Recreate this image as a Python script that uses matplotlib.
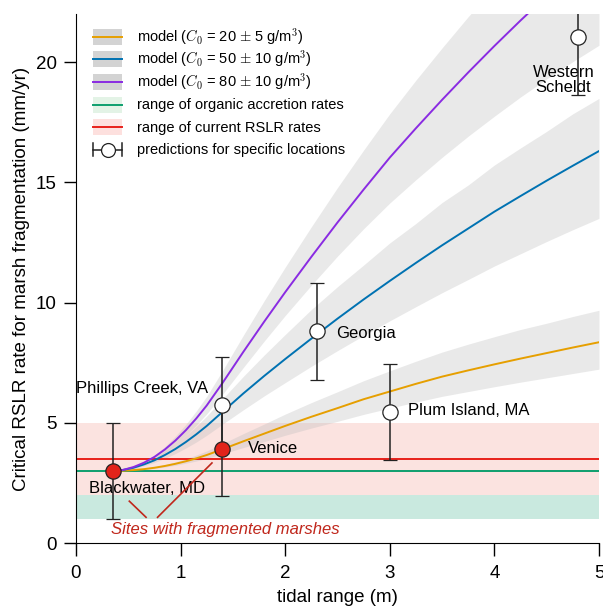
import numpy as np
import matplotlib
matplotlib.use('Agg')
import matplotlib.pyplot as plt
from matplotlib.patches import Rectangle
from matplotlib.lines import Line2D
from matplotlib.legend_handler import HandlerBase

plt.rcParams['font.family'] = ['Liberation Sans', 'DejaVu Sans']
plt.rcParams['mathtext.fontset'] = 'cm'

# tidal range grid (m) and model curves
tidal = [0.35, 0.45, 0.55, 0.65, 0.75, 0.85, 0.95, 1.05, 1.15, 1.25, 1.4, 1.6, 1.8,
         2.0, 2.25, 2.5, 2.75, 3.0, 3.25, 3.5, 3.75, 4.0, 4.25, 4.5, 4.75, 5.0]

c20 = [3.0, 3.008, 3.033, 3.073, 3.13, 3.204, 3.294, 3.40, 3.52, 3.66, 3.9, 4.23, 4.55,
       4.87, 5.25, 5.61, 5.98, 6.3, 6.62, 6.92, 7.18, 7.43, 7.67, 7.9, 8.13, 8.35]
c20_hi = [3.0, 3.01, 3.04, 3.09, 3.16, 3.26, 3.37, 3.5, 3.66, 3.83, 4.13, 4.55, 4.95,
          5.36, 5.84, 6.29, 6.75, 7.16, 7.56, 7.94, 8.27, 8.58, 8.88, 9.14, 9.42, 9.68]
c20_lo = [3.0, 3.01, 3.03, 3.06, 3.1, 3.16, 3.23, 3.32, 3.41, 3.52, 3.71, 3.97, 4.22,
          4.48, 4.78, 5.06, 5.35, 5.61, 5.86, 6.1, 6.3, 6.5, 6.69, 6.87, 7.05, 7.23]

c50 = [3.0, 3.04, 3.13, 3.27, 3.44, 3.66, 3.91, 4.2, 4.52, 4.87, 5.45, 6.22, 6.95,
       7.65, 8.5, 9.33, 10.13, 10.9, 11.65, 12.38, 13.08, 13.78, 14.43, 15.07, 15.69, 16.3]
c50_hi = [3.0, 3.05, 3.16, 3.33, 3.54, 3.81, 4.11, 4.46, 4.85, 5.28, 5.99, 6.93, 7.82,
          8.67, 9.71, 10.66, 11.56, 12.48, 13.29, 14.16, 14.89, 15.72, 16.43, 17.12, 17.85, 18.49]
c50_lo = [3.0, 3.03, 3.10, 3.21, 3.35, 3.52, 3.72, 3.95, 4.2, 4.48, 4.94, 5.54, 6.12,
          6.67, 7.35, 8.0, 8.63, 9.24, 9.83, 10.41, 10.96, 11.52, 12.03, 12.54, 13.03, 13.5]

c80 = [3.0, 3.04, 3.16, 3.34, 3.58, 3.89, 4.26, 4.69, 5.18, 5.72, 6.65, 7.95, 9.21,
       10.43, 11.9, 13.33, 14.7, 16.03, 17.25, 18.43, 19.57, 20.67, 21.73, 22.75, 23.75, 24.7]
c80_hi = [3.0, 3.05, 3.18, 3.39, 3.66, 4.01, 4.44, 4.93, 5.49, 6.1, 7.16, 8.64, 10.08,
          11.47, 13.15, 14.78, 16.34, 17.85, 19.25, 20.59, 21.89, 23.1, 24.3, 25.4, 26.5, 27.6]
c80_lo = [3.0, 3.03, 3.14, 3.3, 3.5, 3.77, 4.1, 4.47, 4.9, 5.37, 6.18, 7.3, 8.4,
          9.46, 10.72, 11.93, 13.07, 14.14, 15.11, 16.04, 16.92, 17.75, 18.55, 19.3, 20.02, 20.7]

# ranges (mm/yr)
accretion = [1.0, 2.0]
accretion_mid = 3.0
rslr = [2.0, 5.0]
rslr_mid = 3.5

# sites
sites = ['Blackwater, MD', 'Venice', 'Phillips Creek, VA', 'Georgia', 'Plum Island, MA', 'Western\nScheldt']
site_x = [0.35, 1.4, 1.4, 2.3, 3.0, 4.8]
site_y = [3.0, 3.9, 5.75, 8.8, 5.45, 21.05]
site_err = [2.0, 1.95, 2.0, 2.0, 2.0, 2.4]
fragmented = [True, True, False, False, False, False]

orange = '#E69F00'
blue = '#0072B2'
purple = '#8A2BE2'
green = '#0E9F6E'
red = '#E8201A'
darkred = '#C0271C'
ink = '#222222'


class BandHandler(HandlerBase):
    # grey (or tinted) box with a coloured line through it
    def __init__(self, face, color):
        super().__init__()
        self.face = face
        self.color = color

    def create_artists(self, legend, orig_handle, xdescent, ydescent, width, height, fontsize, trans):
        cy = height / 2 - ydescent
        h = 11.5
        r = Rectangle((-xdescent, cy - h / 2), width, h, facecolor=self.face, edgecolor='none', transform=trans)
        l = Line2D([-xdescent, width - xdescent], [cy, cy], color=self.color, lw=1.4, transform=trans)
        return [r, l]


class ErrHandler(HandlerBase):
    # |--O--| symbol
    def create_artists(self, legend, orig_handle, xdescent, ydescent, width, height, fontsize, trans):
        cy = height / 2 - ydescent
        x0, x1 = -xdescent, width - xdescent
        c = 4.7
        arts = [Line2D([x0, x1], [cy, cy], color=ink, lw=1.1, transform=trans),
                Line2D([x0, x0], [cy - c, cy + c], color=ink, lw=1.1, transform=trans),
                Line2D([x1, x1], [cy - c, cy + c], color=ink, lw=1.1, transform=trans),
                Line2D([(x0 + x1) / 2], [cy], marker='o', ms=10, mfc='white', mec=ink, mew=0.9,
                       ls='none', transform=trans)]
        return arts


fig = plt.figure(figsize=(6.03, 6.07), dpi=100)
ax = fig.add_axes([0.126, 0.1054, 0.8673, 0.8715])

ax.axhspan(accretion[0], accretion[1], color='#c9e9df', lw=0, zorder=0)
ax.axhspan(rslr[0], rslr[1], color='#fbe3e0', lw=0, zorder=0)

for lo, hi in [(c20_lo, c20_hi), (c50_lo, c50_hi), (c80_lo, c80_hi)]:
    ax.fill_between(tidal, lo, hi, color='#bdbdbd', alpha=0.33, lw=0, zorder=1)

ax.axhline(accretion_mid, color=green, lw=1.4, zorder=2)
ax.axhline(rslr_mid, color=red, lw=1.4, zorder=2)

ax.plot(tidal, c20, color=orange, lw=1.4, zorder=3)
ax.plot(tidal, c50, color=blue, lw=1.4, zorder=3)
ax.plot(tidal, c80, color=purple, lw=1.4, zorder=3)

for i in range(len(sites)):
    fc = '#E2231A' if fragmented[i] else 'white'
    ax.errorbar(site_x[i], site_y[i], yerr=site_err[i], fmt='o', ms=11,
                mfc=fc, mec=ink, mew=0.9, ecolor=ink, elinewidth=1.1,
                capsize=4.7, capthick=1.1, zorder=4)

ax.text(0.63, 6.42, sites[2], fontsize=12, ha='center', va='center')
ax.text(2.49, 8.72, sites[3], fontsize=12, ha='left', va='center')
ax.text(3.17, 5.5, sites[4], fontsize=12, ha='left', va='center')
ax.text(1.64, 3.95, sites[1], fontsize=12, ha='left', va='center')
ax.text(0.68, 2.25, sites[0], fontsize=12, ha='center', va='center')
ax.text(4.66, 19.25, sites[5], fontsize=12, ha='center', va='center', linespacing=0.95)

ax.text(1.43, 0.55, 'Sites with fragmented marshes', fontsize=12, color=darkred,
        style='italic', ha='center', va='center')
ax.plot([0.51, 0.67], [1.74, 1.07], color=darkred, lw=1.2, zorder=5)
ax.plot([0.78, 1.30], [1.07, 3.33], color=darkred, lw=1.2, zorder=5)

# legend
handles = [Line2D([], []) for _ in range(6)]
hmap = {
    handles[0]: BandHandler('#d3d3d3', orange),
    handles[1]: BandHandler('#d3d3d3', blue),
    handles[2]: BandHandler('#d3d3d3', purple),
    handles[3]: BandHandler('#e3f3e6', green),
    handles[4]: BandHandler('#fde0de', red),
    handles[5]: ErrHandler(),
}
labels = [
    r'model ($C_0$ = 20 $\pm$ 5 g/m$^3$)',
    r'model ($C_0$ = 50 $\pm$ 10 g/m$^3$)',
    r'model ($C_0$ = 80 $\pm$ 10 g/m$^3$)',
    'range of organic accretion rates',
    'range of current RSLR rates',
    'predictions for specific locations',
]
ax.legend(handles, labels, handler_map=hmap, loc='upper left', bbox_to_anchor=(0.0325, 0.978),
          frameon=False, fontsize=10.5, handlelength=2.0, handleheight=2.0,
          handletextpad=1.0, labelspacing=0.0, borderpad=0, borderaxespad=0)

ax.set_xlim(0, 5)
ax.set_ylim(0, 22)
ax.set_xticks([0, 1, 2, 3, 4, 5])
ax.set_yticks([0, 5, 10, 15, 20])
ax.spines['top'].set_visible(False)
ax.spines['right'].set_visible(False)
ax.tick_params(labelsize=13.5, length=9, width=1, pad=5)
ax.tick_params(axis='x', pad=7)
ax.set_xlabel('tidal range (m)', fontsize=13.5, labelpad=5)
ax.set_ylabel('Critical RSLR rate for marsh fragmentation (mm/yr)', fontsize=13.5, labelpad=4)

fig.savefig('out.png', dpi=100)
